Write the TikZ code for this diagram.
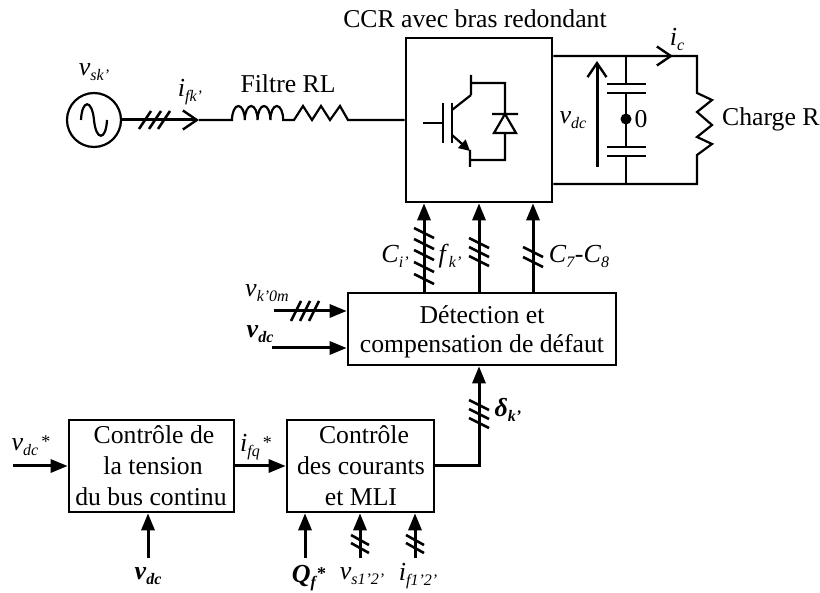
\documentclass[tikz,border=0pt]{standalone}
\usepackage{fontspec}
\setmainfont{Liberation Serif}
\usetikzlibrary{arrows.meta,positioning,calc}
\newcommand{\subtxt}[1]{\raisebox{-5pt}{\fontsize{16}{16}\selectfont\textit{#1}}}
\newcommand{\subbold}[1]{\raisebox{-5pt}{\fontsize{16}{16}\selectfont\textbf{\textit{#1}}}}
\newcommand{\startxt}{\hspace{3pt}\raisebox{3pt}{\fontsize{18}{18}\selectfont *}}
\newcommand{\varsub}[2]{\textit{#1}\subtxt{#2}}
\newcommand{\varbold}[2]{\textbf{\textit{#1}}\subbold{#2}}
\begin{document}
\begin{tikzpicture}[x=1pt, y=-1pt, line join=miter, every node/.style={font=\fontsize{25.7}{30}\selectfont, inner sep=0pt}, block/.style={draw, line width=2.6pt, align=center, fill=white}, wire/.style={line width=2.2pt}, arr/.style={-{Triangle[length=17pt,width=13pt]}, line width=3pt}, openarr/.style={-{Straight Barb[length=14pt,width=19pt,line width=2.4pt]}, line width=3pt}, slash/.style={line width=2.6pt}, lab/.style={font=\fontsize{26}{30}\selectfont}]
\useasboundingbox (0,0) rectangle (820,593);
% blocks
\node[block, minimum width=146pt, minimum height=164pt] (ccr) at (479,120) {};
\node[block, minimum width=268pt, minimum height=72pt] (detect) at (482,329) {};
\node at (482,315) {Détection et};
\node at (482,346) {compensation de défaut};
\node[block, minimum width=165pt, minimum height=92pt] (bus) at (151.5,466) {};
\node at (154,435) {Contrôle de};
\node at (153,466) {la tension};
\node at (151,497) {du bus continu};
\node[block, minimum width=147pt, minimum height=92pt] (mli) at (360.5,466) {};
\node at (364,435) {Contrôle};
\node at (361,466) {des courants};
\node at (361,497) {et MLI};
\node[draw, circle, line width=2.2pt, minimum size=54pt] (src) at (94,120) {};
\node (title) at (475,19) {CCR avec bras redondant};
\node (filtre) at (288,84) {Filtre RL};
\node[anchor=west] (charge) at (722,119) {Charge R};
\node[lab] (vsk) at (94,72) {\varsub{v}{sk’}};
\node[lab] (ifk) at (190,92) {\varsub{i}{fk’}};
\node[lab] (ic) at (677,39) {\varsub{i}{c}};
\node[lab] (vdcbus) at (573,120) {\varsub{v}{dc}};
\node (zero) at (641,119) {0};
\node[lab] (ci) at (395,256) {\varsub{C}{i’}};
\node[lab] (fk) at (450,256) {\varsub{f}{k’}};
\node[lab] (c78) at (579,256) {\textit{C}\subtxt{7}\textit{-C}\subtxt{8}};
\node[lab] (vk) at (267,293) {\varsub{v}{k’0m}};
\node[lab] (vdcdet) at (260,334) {\varbold{v}{dc}};
\node[lab] (delta) at (508,410) {\varbold{δ}{k’}};
\node[lab] (vdcref) at (31,446) {\varsub{v}{dc}\startxt};
\node[lab] (ifq) at (256,447) {\varsub{i}{fq}\startxt};
\node[lab] (vdcbot) at (148,576) {\varbold{v}{dc}};
\node[lab] (qf) at (309,578) {\textbf{\textit{Q}}\subbold{f}\raisebox{3pt}{\fontsize{18}{18}\selectfont\bfseries *}};
\node[lab] (vs) at (362,576) {\varsub{v}{s1’2’}};
\node[lab] (if) at (418,576) {\varsub{i}{f1’2’}};
% power side
\coordinate (lstart) at (232,120);
\coordinate (itip) at (199,120);
\coordinate (capt) at (626,56);
\coordinate (capb) at (626,184);
\coordinate (rt) at (697,56);
\coordinate (rb) at (697,184);
\coordinate (vdctop) at (597,61);
\coordinate (vdcfoot) at (597,167);
\coordinate (mid) at (626,119);
\draw[openarr] (src.east) -- (itip);
\draw[wire] (itip) -- (lstart) arc[start angle=180,end angle=0,x radius=6.4pt,y radius=14pt] arc[start angle=180,end angle=0,x radius=6.4pt,y radius=14pt] arc[start angle=180,end angle=0,x radius=6.4pt,y radius=14pt] arc[start angle=180,end angle=0,x radius=6.4pt,y radius=14pt] -- (294,120) -- (303,106) -- (312,120) -- (321,106) -- (330,120) -- (340,106) -- (348,120) -- (ccr.west);
\draw[wire] (81,120) .. controls (82,99) and (92,99) .. (94,120) .. controls (96,141) and (106,141) .. (107,120);
\draw[wire] (ccr.east|-capt) -- (rt) -- (697,93) -- (712,100) -- (697,112) -- (712,125) -- (697,137) -- (712,144) -- (697,155) -- (rb) -- (ccr.east|-capb);
\draw[openarr, line width=2.2pt] (640,56) -- (673,56);
\draw[openarr] (vdcfoot) -- (vdctop);
\draw[wire] (capt) -- (626,84) (607,84) -- (646,84) (607,93) -- (646,93) (626,93) -- (626,147) (607,147) -- (646,147) (607,156) -- (646,156) (626,156) -- (capb);
\fill (mid) circle (5.5pt);
% switch
\draw[wire] (423,123) -- (443,123) (443,103) -- (443,143) (452,103) -- (452,143);
\draw[wire] (452,110) -- (471,95) (471,75) -- (471,95) (471,83) -- (505,83) -- (505,114) (492,114) -- (518,114) (505,114) -- (494,133) -- (516,133) -- cycle (505,133) -- (505,160) -- (470,160) (470,150) -- (470,167);
\draw[wire, -{Triangle[length=11pt,width=11pt]}] (452,135) -- (470,151);
% control side
\coordinate (cidn) at (424,250);
\coordinate (fkdn) at (479,250);
\coordinate (c78dn) at (533,250);
\coordinate (vkin) at (274,311);
\coordinate (vdcin) at (272,348);
\coordinate (bend) at (479,466);
\coordinate (vref) at (13,466);
\coordinate (vbot) at (148,558);
\coordinate (qbot) at (305,558);
\coordinate (vsbot) at (360,558);
\coordinate (ifbot) at (415,558);
\draw[arr] (cidn|-detect.north) -- (cidn|-ccr.south);
\draw[arr] (fkdn|-detect.north) -- (fkdn|-ccr.south);
\draw[arr] (c78dn|-detect.north) -- (c78dn|-ccr.south);
\draw[arr] (vkin) -- (vkin-|detect.west);
\draw[arr] (vdcin) -- (vdcin-|detect.west);
\draw[arr] (mli.east) -- (bend) -- (bend|-detect.south);
\draw[arr] (vref) -- (bus.west);
\draw[arr] (bus.east) -- (mli.west);
\draw[arr] (vbot) -- (vbot|-bus.south);
\draw[arr] (qbot) -- (qbot|-mli.south);
\draw[arr] (vsbot) -- (vsbot|-mli.south);
\draw[arr] (ifbot) -- (ifbot|-mli.south);
% phase marks
\foreach \ty in {233,244,255,267,279} \draw[slash] (414,\ty-5) -- (434,\ty+5);
\foreach \ty in {243,252,261} \draw[slash] (469,\ty-5) -- (489,\ty+5);
\foreach \ty in {252,262} \draw[slash] (523,\ty-5) -- (543,\ty+5);
\foreach \ty in {405,414,423} \draw[slash] (469,\ty-5) -- (489,\ty+5);
\foreach \ty in {540,548} {\draw[slash] (351,\ty-5) -- (369,\ty+5); \draw[slash] (406,\ty-5) -- (424,\ty+5);}
\foreach \tx in {145,155,164} \draw[slash] (\tx-6,129) -- (\tx+6,111);
\foreach \tx in {296,305,314} \draw[slash] (\tx-5,321) -- (\tx+5,301);
\end{tikzpicture}
\end{document}
